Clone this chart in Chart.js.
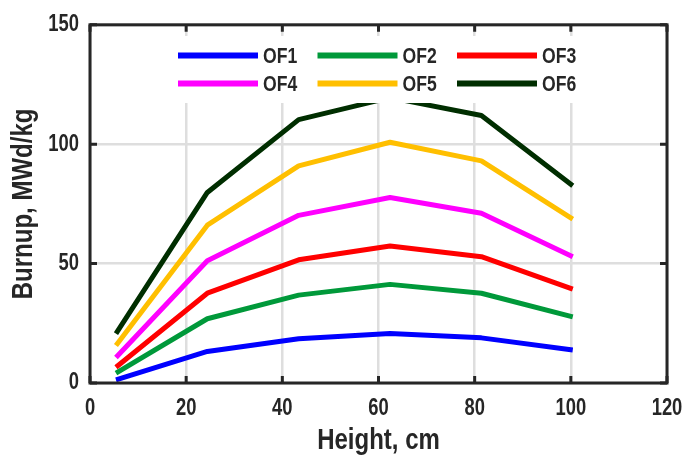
<!DOCTYPE html>
<html>
<head>
<meta charset="utf-8">
<script src="https://cdn.jsdelivr.net/npm/chart.js@4.4.1/dist/chart.umd.min.js"></script>
<style>
  html, body { margin: 0; padding: 0; background: #fff; }
  #wrap { width: 699px; height: 464px; position: relative; }
</style>
</head>
<body>
<div id="wrap"><canvas id="burnupChart"></canvas></div>
<script>
// ── Data ────────────────────────────────────────────────────
const heights = [5.4, 24.4, 43.4, 62.4, 81.4, 100.4];

const of1 = [1.3, 13.2, 18.5, 20.7, 18.9, 13.8];
const of2 = [4.1, 26.9, 36.8, 41.3, 37.6, 27.7];
const of3 = [6.6, 37.6, 51.6, 57.4, 52.9, 39.3];
const of4 = [10.7, 51.2, 70.2, 77.7, 71.1, 52.9];
const of5 = [15.7, 66.1, 90.9, 100.8, 93.0, 68.6];
const of6 = [20.7, 79.8, 110.3, 119.5, 112.0, 82.6];

const seriesNames  = ['OF1', 'OF2', 'OF3', 'OF4', 'OF5', 'OF6'];
const seriesValues = [of1, of2, of3, of4, of5, of6];
const seriesColors = ['#0000ff', '#00993a', '#ff0000', '#ff00ff', '#ffbf00', '#002e00'];

const xTitle = 'Height, cm';
const yTitle = 'Burnup, MWd/kg';

const FONT = '"Liberation Sans", Arial, sans-serif';
const INK  = '#262626';
const NARROW = 0.8;   // no narrow font installed -> squeeze Arial-like glyphs

const canvas = document.getElementById('burnupChart');
const ctx2d  = canvas.getContext('2d');

// every text on this canvas gets condensed around its own anchor
const rawFillText = ctx2d.fillText.bind(ctx2d);
ctx2d.fillText = function (text, x, y, maxWidth) {
    this.save();
    this.translate(x, y);
    this.scale(NARROW, 1);
    if (maxWidth === undefined) rawFillText(text, 0, 0);
    else rawFillText(text, 0, 0, maxWidth / NARROW);
    this.restore();
};

// ── Box + inward ticks (matlab style frame) ─────────────────
const framePlugin = {
    id: 'frame',
    afterDraw(chart) {
        const { ctx, chartArea: a, scales } = chart;
        ctx.save();
        ctx.strokeStyle = INK;
        ctx.lineWidth = 3;
        ctx.strokeRect(a.left, a.top, a.right - a.left, a.bottom - a.top);
        ctx.beginPath();
        scales.x.ticks.forEach(t => {
            const px = scales.x.getPixelForValue(t.value);
            ctx.moveTo(px, a.bottom); ctx.lineTo(px, a.bottom - 7);
            ctx.moveTo(px, a.top);    ctx.lineTo(px, a.top + 7);
        });
        scales.y.ticks.forEach(t => {
            const py = scales.y.getPixelForValue(t.value);
            ctx.moveTo(a.left, py);  ctx.lineTo(a.left + 7, py);
            ctx.moveTo(a.right, py); ctx.lineTo(a.right - 7, py);
        });
        ctx.stroke();
        ctx.restore();
    }
};

// ── Legend sits inside the plot on a white box, over the lines ──
const legendPlugin = {
    id: 'insideLegend',
    afterDatasetsDraw(chart) {
        const ctx = chart.ctx;
        ctx.save();
        ctx.fillStyle = '#fff';
        ctx.fillRect(168, 36, 424, 67);
        ctx.font = 'bold 22px ' + FONT;
        ctx.textBaseline = 'middle';
        ctx.textAlign = 'left';
        chart.data.datasets.forEach((ds, i) => {
            const x0 = 178 + (i % 3) * 139.5;
            const y0 = 55.5 + Math.floor(i / 3) * 28;
            ctx.strokeStyle = ds.borderColor;
            ctx.lineWidth = 6;
            ctx.beginPath();
            ctx.moveTo(x0, y0);
            ctx.lineTo(x0 + 80, y0);
            ctx.stroke();
            ctx.fillStyle = INK;
            ctx.fillText(ds.label, x0 + 85, y0 + 1);
        });
        ctx.restore();
    }
};

new Chart(canvas, {
    type: 'line',
    data: {
        datasets: seriesNames.map((name, i) => ({
            label: name,
            data: heights.map((h, j) => ({ x: h, y: seriesValues[i][j] })),
            borderColor: seriesColors[i],
            backgroundColor: seriesColors[i],
            borderWidth: 5,
            borderJoinStyle: 'round',
            pointRadius: 0,
            tension: 0,
            fill: false
        }))
    },
    options: {
        responsive: true,
        maintainAspectRatio: false,
        animation: false,
        layout: { padding: { left: 0, right: 32, top: 20, bottom: 0 } },
        plugins: {
            legend: { display: false },
            tooltip: { enabled: false }
        },
        scales: {
            x: {
                type: 'linear',
                min: 0, max: 120,
                ticks: {
                    stepSize: 20,
                    padding: 12,
                    color: INK,
                    font: { family: FONT, size: 23, weight: 'bold' }
                },
                grid: { color: '#dedede', lineWidth: 2.5, drawTicks: false },
                border: { display: false },
                title: {
                    display: true, text: xTitle, color: INK,
                    font: { family: FONT, size: 30, weight: 'bold' },
                    padding: { top: 0, bottom: 5 }
                },
                afterFit: s => { s.height = 81; }
            },
            y: {
                min: 0, max: 150,
                ticks: {
                    stepSize: 50,
                    padding: 11,
                    color: INK,
                    font: { family: FONT, size: 23, weight: 'bold' }
                },
                grid: { color: '#dedede', lineWidth: 2.5, drawTicks: false },
                border: { display: false },
                title: {
                    display: true, text: yTitle, color: INK,
                    font: { family: FONT, size: 30, weight: 'bold' },
                    padding: { top: 6, bottom: 0 }
                },
                afterFit: s => { s.width = 90; }
            }
        }
    },
    plugins: [legendPlugin, framePlugin]
});
</script>
</body>
</html>
